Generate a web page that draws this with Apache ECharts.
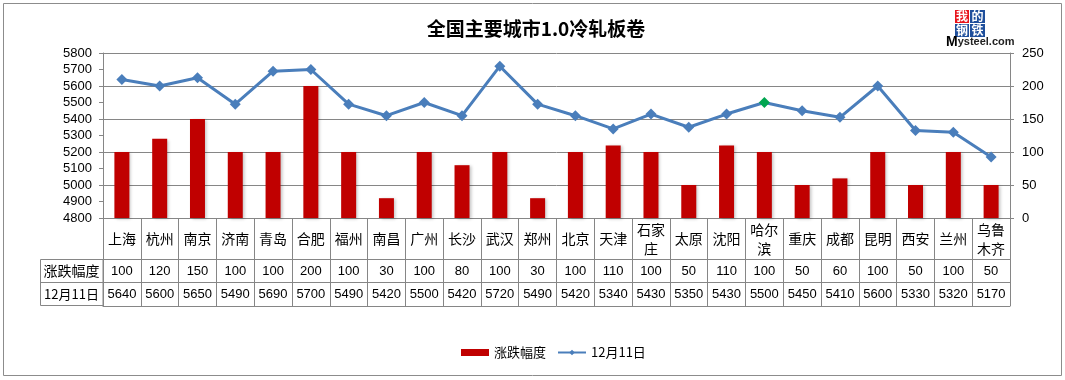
<!DOCTYPE html>
<html><head><meta charset="utf-8">
<script src="https://cdn.jsdelivr.net/npm/echarts@6/dist/echarts.min.js"></script>
<style>html,body{margin:0;padding:0;background:#fff;}#c{width:1065px;height:380px;}</style>
</head><body><div id="c"></div>
<script>
const categories = ['上海','杭州','南京','济南','青岛','合肥','福州','南昌','广州','长沙','武汉','郑州','北京','天津','石家庄','太原','沈阳','哈尔滨','重庆','成都','昆明','西安','兰州','乌鲁木齐'];
const changeValues = [100,120,150,100,100,200,100,30,100,80,100,30,100,110,100,50,110,100,50,60,100,50,100,50];
const priceValues = [5640,5600,5650,5490,5690,5700,5490,5420,5500,5420,5720,5490,5420,5340,5430,5350,5430,5500,5450,5410,5600,5330,5320,5170];
const changeName = '涨跌幅度';
const priceName = '12月11日';
const titleText = '全国主要城市1.0冷轧板卷';
const leftTicks = [4800, 5800, 100];
const rightTicks = [0, 250, 50];
const highlightIndex = 17;

const FONT = '"Noto Sans CJK SC", sans-serif';
const NUMFONT = '"Liberation Sans", "DejaVu Sans", sans-serif';
const GRAY = '#868686';
const chart = echarts.init(document.getElementById('c'));

function splitName(n){ return n.length > 2 ? n.slice(0,2) + '\n' + n.slice(2) : n; }
function plain(v){ return String(v); }

chart.setOption({
  animation: false,
  backgroundColor: '#fff',
  title: {
    text: titleText, left: 531, top: 14, textAlign: 'center',
    textStyle: {fontFamily: FONT, fontSize: 19, fontWeight: 'bold', color: '#000'}
  },
  legend: {
    left: 456, top: 341, itemWidth: 28, itemHeight: 7, itemGap: 11,
    textStyle: {fontFamily: FONT, fontSize: 13, color: '#000'},
    data: [{name: changeName, icon: 'rect'}, {name: priceName}]
  },
  grid: {left: 103, right: 55, top: 53, bottom: 162, containLabel: false, outerBoundsMode: 'none'},
  xAxis: [
    {
      type: 'category', data: categories, position: 'bottom',
      axisLine: {show: true, lineStyle: {color: GRAY, width: 1}},
      axisTick: {show: true, interval: 0, length: 88, lineStyle: {color: GRAY, width: 1}},
      axisLabel: {interval: 0, margin: 21, verticalAlign: 'middle', lineHeight: 19,
        fontFamily: FONT, fontSize: 14, color: '#000', formatter: splitName}
    },
    {
      type: 'category', data: changeValues.map(String), position: 'bottom', offset: 41,
      axisLine: {show: true, lineStyle: {color: GRAY, width: 1}},
      axisTick: {show: false},
      axisLabel: {interval: 0, margin: 12, verticalAlign: 'middle', fontFamily: NUMFONT, fontSize: 13, color: '#000'}
    },
    {
      type: 'category', data: priceValues.map(String), position: 'bottom', offset: 64,
      axisLine: {show: true, lineStyle: {color: GRAY, width: 1}},
      axisTick: {show: false},
      axisLabel: {interval: 0, margin: 12, verticalAlign: 'middle', fontFamily: NUMFONT, fontSize: 13, color: '#000'}
    },
    {
      type: 'category', data: categories, position: 'bottom', offset: 88,
      axisLine: {show: true, lineStyle: {color: GRAY, width: 1}},
      axisTick: {show: false}, axisLabel: {show: false}
    }
  ],
  yAxis: [
    {
      type: 'value', min: leftTicks[0], max: leftTicks[1], interval: leftTicks[2], position: 'left',
      splitLine: {show: false},
      axisLine: {show: true, lineStyle: {color: GRAY}},
      axisTick: {show: true, length: 4, lineStyle: {color: GRAY}},
      axisLabel: {margin: 11, fontFamily: NUMFONT, fontSize: 13, color: '#000', formatter: plain}
    },
    {
      type: 'value', min: rightTicks[0], max: rightTicks[1], interval: rightTicks[2], position: 'right',
      splitLine: {show: true, lineStyle: {color: GRAY, width: 1}},
      axisLine: {show: true, lineStyle: {color: GRAY}},
      axisTick: {show: true, length: 4, lineStyle: {color: GRAY}},
      axisLabel: {margin: 12, fontFamily: NUMFONT, fontSize: 13, color: '#000', formatter: plain}
    }
  ],
  series: [
    {
      name: changeName, type: 'bar', xAxisIndex: 0, yAxisIndex: 1, data: changeValues,
      barWidth: 15,
      itemStyle: {color: '#c00000', shadowColor: 'rgba(0,0,0,0.22)', shadowBlur: 3, shadowOffsetX: 2, shadowOffsetY: 1}
    },
    {
      name: priceName, type: 'line', xAxisIndex: 0, yAxisIndex: 0,
      data: priceValues.map((v, i) => i === highlightIndex ? {value: v, itemStyle: {color: '#00a550'}} : v),
      symbol: 'diamond', symbolSize: 11,
      lineStyle: {color: '#4a7ebb', width: 3},
      itemStyle: {color: '#4a7ebb'},
      z: 5
    }
  ],
  graphic: [
    {type: 'rect', shape: {x: 3.5, y: 3.5, width: 1058, height: 372}, style: {fill: 'none', stroke: '#8c8c8c', lineWidth: 1}, silent: true, z: -1},
    {type: 'rect', shape: {x: 40.5, y: 259.5, width: 62.5, height: 46}, style: {fill: 'none', stroke: GRAY, lineWidth: 1}, silent: true},
    {type: 'line', shape: {x1: 40.5, y1: 282.5, x2: 103, y2: 282.5}, style: {stroke: GRAY, lineWidth: 1}, silent: true},
    {type: 'text', x: 71.5, y: 271, style: {text: changeName, fontFamily: FONT, fontSize: 14, fill: '#000', align: 'center', verticalAlign: 'middle'}},
    {type: 'text', x: 71.5, y: 294.5, style: {text: priceName, fontFamily: FONT, fontSize: 13, fill: '#000', align: 'center', verticalAlign: 'middle'}},
    {type: 'rect', shape: {x: 955, y: 10, width: 14, height: 13}, style: {fill: '#e8141c'}},
    {type: 'rect', shape: {x: 970, y: 10, width: 15, height: 13}, style: {fill: '#1f4f9c'}},
    {type: 'rect', shape: {x: 955, y: 24, width: 14, height: 13}, style: {fill: '#1f4f9c'}},
    {type: 'rect', shape: {x: 970, y: 24, width: 15, height: 13}, style: {fill: '#1f4f9c'}},
    {type: 'text', x: 962, y: 16.5, style: {text: '我', fontFamily: FONT, fontSize: 12, fontWeight: 'bold', fill: '#fff', align: 'center', verticalAlign: 'middle'}},
    {type: 'text', x: 977.5, y: 16.5, style: {text: '的', fontFamily: FONT, fontSize: 12, fontWeight: 'bold', fill: '#fff', align: 'center', verticalAlign: 'middle'}},
    {type: 'text', x: 962, y: 30.5, style: {text: '钢', fontFamily: FONT, fontSize: 12, fontWeight: 'bold', fill: '#fff', align: 'center', verticalAlign: 'middle'}},
    {type: 'text', x: 977.5, y: 30.5, style: {text: '铁', fontFamily: FONT, fontSize: 12, fontWeight: 'bold', fill: '#fff', align: 'center', verticalAlign: 'middle'}},
    {type: 'text', x: 946, y: 42, style: {text: '{m|M}{r|ysteel.com}', verticalAlign: 'middle',
      rich: {m: {fontFamily: NUMFONT, fontSize: 14, fontWeight: 'bold', fill: '#000'}, r: {fontFamily: NUMFONT, fontSize: 11, fontWeight: 'bold', fill: '#222'}}}}
  ]
});
</script></body></html>
